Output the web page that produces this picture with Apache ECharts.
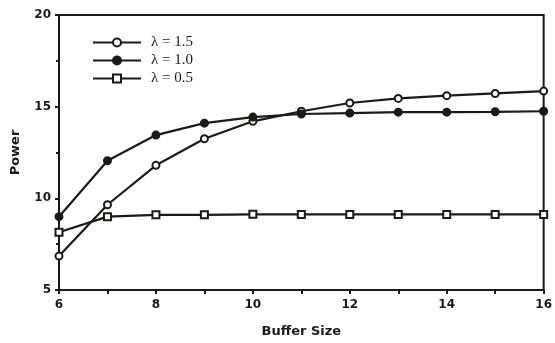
<!DOCTYPE html>
<html><head><meta charset="utf-8">
<script src="https://cdn.jsdelivr.net/npm/echarts@6/dist/echarts.min.js"></script>
<style>html,body{margin:0;padding:0;background:#fff}#c{width:555px;height:343px}</style>
</head><body><div id="c"></div>
<script>
const bufferSizes = [6, 7, 8, 9, 10, 11, 12, 13, 14, 15, 16];
const lambda15 = [6.85, 9.65, 11.8, 13.25, 14.2, 14.75, 15.2, 15.45, 15.6, 15.72, 15.85];
const lambda10 = [9.0, 12.05, 13.45, 14.1, 14.43, 14.6, 14.65, 14.7, 14.7, 14.72, 14.75];
const lambda05 = [8.15, 9.0, 9.1, 9.1, 9.13, 9.12, 9.12, 9.12, 9.12, 9.12, 9.12];
const seriesNames = ['λ = 1.5', 'λ = 1.0', 'λ = 0.5'];
const yTicks = [5, 10, 15, 20];
const xTicks = [6, 8, 10, 12, 14, 16];

const ink = '#1c1a18';
const pair = arr => bufferSizes.map((x, i) => [x, arr[i]]);
const mk = (name, data, symbol, filled, size) => ({
  name, type: 'line', data: pair(data), symbol, symbolSize: size,
  lineStyle: { color: ink, width: 2.2 },
  itemStyle: { color: filled ? ink : '#fff', borderColor: ink, borderWidth: 2 },
  emphasis: { disabled: true }
});
const chart = echarts.init(document.getElementById('c'));
chart.setOption({
  animation: false,
  backgroundColor: '#fff',
  grid: { left: 59, right: 11, top: 15, bottom: 46, show: true, borderColor: ink, borderWidth: 2, backgroundColor: 'transparent' },
  legend: {
    orient: 'vertical', left: 87, top: 30, itemWidth: 48, itemHeight: 10, itemGap: 3,
    data: seriesNames,
    textStyle: { fontFamily: 'Liberation Serif', fontSize: 15, lineHeight: 15, color: ink, padding: [0, 0, 0, 5] }
  },
  xAxis: {
    type: 'value', min: xTicks[0], max: xTicks[xTicks.length - 1], interval: 2,
    name: 'Buffer Size', nameLocation: 'middle', nameGap: 35,
    nameTextStyle: { fontFamily: 'DejaVu Sans', fontSize: 13, fontWeight: 'bold', color: ink },
    axisLine: { lineStyle: { color: ink, width: 2 } },
    axisTick: { length: 4, inside: false, lineStyle: { color: ink, width: 2 } },
    minorTick: { show: true, splitNumber: 2, length: 4, lineStyle: { color: ink, width: 2 } },
    splitLine: { show: false },
    axisLabel: { margin: 9, fontFamily: 'DejaVu Sans', fontSize: 12, fontWeight: 'bold', color: ink }
  },
  yAxis: {
    type: 'value', min: yTicks[0], max: yTicks[yTicks.length - 1], interval: 5,
    name: 'Power', nameLocation: 'middle', nameGap: 37,
    nameTextStyle: { fontFamily: 'DejaVu Sans', fontSize: 13, fontWeight: 'bold', color: ink },
    axisLine: { lineStyle: { color: ink, width: 2 } },
    axisTick: { length: 4, lineStyle: { color: ink, width: 2 } },
    minorTick: { show: true, splitNumber: 2, length: 3, lineStyle: { color: ink, width: 2 } },
    splitLine: { show: false },
    axisLabel: { margin: 8, fontFamily: 'DejaVu Sans', fontSize: 12, fontWeight: 'bold', color: ink }
  },
  series: [
    mk(seriesNames[0], lambda15, 'circle', false, 7),
    mk(seriesNames[1], lambda10, 'circle', true, 7),
    mk(seriesNames[2], lambda05, 'rect', false, 7)
  ]
});
</script></body></html>
